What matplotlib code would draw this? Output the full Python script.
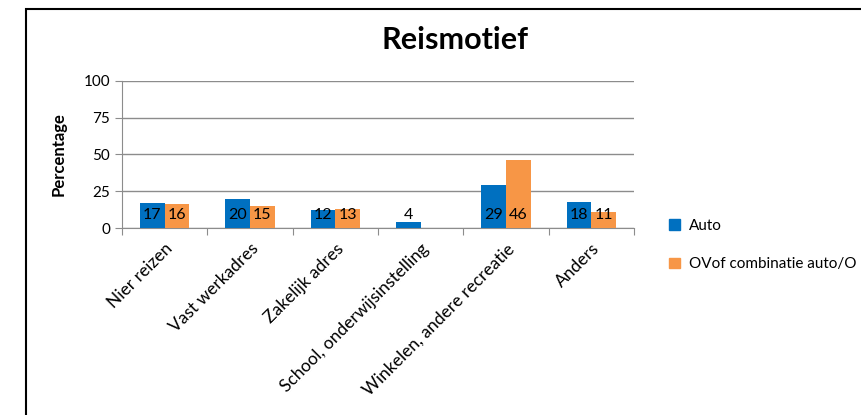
import matplotlib.pyplot as plt
from matplotlib.patches import Rectangle, Patch
import numpy as np

plt.rcParams['font.family'] = ['Lato', 'DejaVu Sans']

categories = ["Nier reizen", "Vast werkadres", "Zakelijk adres",
              "School, onderwijsinstelling", "Winkelen, andere recreatie", "Anders"]
auto = [17, 20, 12, 4, 29, 18]
ov = [16, 15, 13, None, 46, 11]
series_names = ["Auto", "OVof combinatie auto/O"]

blue = "#0070C0"
orange = "#F79646"
grid = "#8c8c8c"

fig = plt.figure(figsize=(8.62, 4.15), dpi=100)
# chart border (cut off at right and bottom like the screenshot)
fig.patches.append(Rectangle((26/862, -0.2), 2.0, 1.2 - 9/415, transform=fig.transFigure,
                             fill=False, edgecolor="black", linewidth=1.5))

ax = fig.add_axes([122/862, 1 - 228/415, (634 - 122)/862, (228 - 81)/415])
x = np.arange(len(categories))
w = 0.29
ov_vals = [v if v is not None else 0 for v in ov]
ax.bar(x - w/2, auto, w, color=blue, zorder=3)
ax.bar(x + w/2, ov_vals, w, color=orange, zorder=3)

for xi, v in zip(x, auto):
    ax.text(xi - w/2, 9, str(v), ha="center", va="center", fontsize=11.5, color="black", zorder=4)
for xi, v in zip(x, ov):
    if v is not None:
        ax.text(xi + w/2, 9, str(v), ha="center", va="center", fontsize=11.5, color="black", zorder=4)

ax.set_xlim(-0.5, len(categories) - 0.5)
ax.set_ylim(0, 100)
ax.set_yticks([0, 25, 50, 75, 100])
ax.yaxis.grid(True, color=grid, linewidth=1)
ax.set_axisbelow(True)
for s in ["top", "right"]:
    ax.spines[s].set_visible(False)
ax.spines["left"].set_color(grid)
ax.spines["bottom"].set_color(grid)
ax.set_xticks(np.arange(len(categories) + 1) - 0.5, minor=False)
ax.set_xticklabels([])
ax.set_xticks(x, minor=True)
ax.set_xticklabels(categories, minor=True, rotation=45, ha="right", rotation_mode="anchor", fontsize=12.5)
ax.tick_params(axis="x", which="major", length=5, color=grid)
ax.tick_params(axis="x", which="minor", length=0, pad=9)
ax.tick_params(axis="y", length=5, color=grid, labelsize=11)
ax.set_ylabel("Percentage", fontweight="bold", fontsize=12, labelpad=12)

fig.text(455/862, 1 - 40/415, "Reismotief", ha="center", va="center", fontsize=22, fontweight="bold")

handles = [Patch(color=blue), Patch(color=orange)]
fig.legend(handles, series_names, loc="center left", bbox_to_anchor=(0.76, 1 - 245/415),
           frameon=False, handlelength=0.7, handleheight=0.7, handletextpad=0.6,
           labelspacing=1.6, fontsize=11)

fig.savefig("out.png", dpi=100)
